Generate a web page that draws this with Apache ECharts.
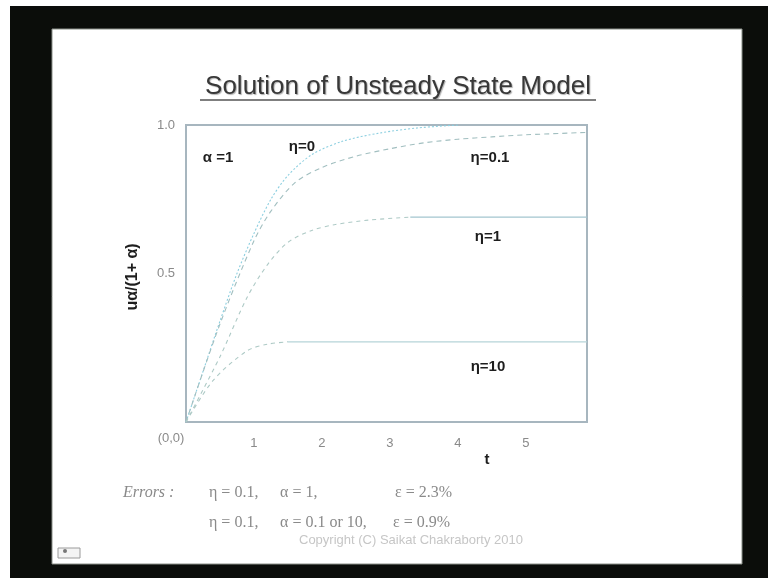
<!DOCTYPE html>
<html>
<head>
<meta charset="utf-8">
<script src="https://cdn.jsdelivr.net/npm/echarts@6/dist/echarts.min.js"></script>
<style>
html,body{margin:0;padding:0;background:#fff;}
#c{width:768px;height:578px;}
</style>
</head>
<body>
<div id="c"></div>
<script>
// ---- data ----
var xTicks = [0, 1, 2, 3, 4, 5];
var yTicks = [0, 0.5, 1.0];

var tEta0 = [0, 0.25, 0.5, 0.75, 1.0, 1.25, 1.5, 1.85, 2.3, 2.85, 3.4, 4.0];
var yEta0 = [0, 0.17, 0.34, 0.5, 0.635, 0.75, 0.83, 0.9, 0.945, 0.973, 0.99, 1.0];

var tEta01 = [0, 0.5, 1.0, 1.25, 1.6, 2.0, 2.5, 3.0, 3.5, 4.0, 4.5, 5.0, 5.9];
var yEta01 = [0, 0.33, 0.61, 0.71, 0.805, 0.857, 0.895, 0.92, 0.94, 0.952, 0.96, 0.967, 0.975];

var tEta1 = [0, 0.5, 0.9, 1.2, 1.5, 1.85, 2.2, 2.7, 3.3, 5.9];
var yEta1 = [0, 0.22, 0.42, 0.53, 0.605, 0.645, 0.665, 0.68, 0.69, 0.69];

var tEta10 = [0, 0.4, 0.9, 1.2, 1.5, 5.9];
var yEta10 = [0, 0.14, 0.24, 0.262, 0.27, 0.27];

var curveLabels = ['η=0', 'η=0.1', 'η=1', 'η=10'];

function zip(t, y) { return t.map(function (v, i) { return [v, y[i]]; }); }

var chart = echarts.init(document.getElementById('c'), null, {renderer: 'canvas'});

var lab = {fontFamily: 'Liberation Sans, Arial', fontWeight: 'bold', fontSize: 15, fill: '#1e1e1e'};
function txt(x, y, s, extra) {
  var st = Object.assign({}, lab, {text: s, x: x, y: y, align: 'center', verticalAlign: 'middle'}, extra || {});
  return {type: 'text', z: 50, style: st};
}
var serif = {fontFamily: 'Liberation Serif, Times New Roman', fontSize: 16, fill: '#8a8a8a', verticalAlign: 'middle'};
function stxt(x, y, s, extra) {
  return {type: 'text', z: 50, style: Object.assign({}, serif, {text: s, x: x, y: y}, extra || {})};
}

var option = {
  backgroundColor: '#ffffff',
  animation: false,
  grid: {left: 186, right: 181, top: 125, bottom: 156, show: true,
         borderColor: '#a7b6bf', borderWidth: 2, backgroundColor: '#ffffff', z: 1},
  xAxis: {
    type: 'value', min: 0, max: 5.9, interval: 1,
    axisLine: {show: false}, axisTick: {show: false}, splitLine: {show: false},
    axisLabel: {
      margin: 15, color: '#8a8a8a', fontSize: 13, fontFamily: 'Liberation Sans, Arial',
      formatter: function (v) { return (v > 0 && xTicks.indexOf(v) >= 0) ? String(v) : ''; }
    }
  },
  yAxis: {
    type: 'value', min: 0, max: 1, interval: 0.5,
    axisLine: {show: false}, axisTick: {show: false}, splitLine: {show: false},
    axisLabel: {
      margin: 11, color: '#8a8a8a', fontSize: 13, fontFamily: 'Liberation Sans, Arial',
      formatter: function (v) { return v > 0 && yTicks.indexOf(v) >= 0 ? v.toFixed(1) : ''; }
    }
  },
  series: [
    {type: 'line', name: curveLabels[0], data: zip(tEta0, yEta0), smooth: 0.3, symbol: 'none', z: 5,
     lineStyle: {color: '#8ccfe0', width: 1.1, type: [2, 2]}},
    {type: 'line', name: curveLabels[1], data: zip(tEta01, yEta01), smooth: 0.3, symbol: 'none', z: 5,
     lineStyle: {color: '#a2bfc0', width: 1.1, type: [5, 4]}},
    {type: 'line', name: curveLabels[2], data: zip(tEta1.slice(0, 9), yEta1.slice(0, 9)), smooth: 0.3, symbol: 'none', z: 5,
     lineStyle: {color: '#aecac6', width: 1.1, type: [4, 4]}},
    {type: 'line', name: curveLabels[2] + ' plateau', data: zip(tEta1.slice(8), yEta1.slice(8)), symbol: 'none', z: 5,
     lineStyle: {color: '#a3c6cf', width: 1.2}},
    {type: 'line', name: curveLabels[3], data: zip(tEta10.slice(0, 5), yEta10.slice(0, 5)), smooth: 0.3, symbol: 'none', z: 5,
     lineStyle: {color: '#aecac6', width: 1.1, type: [4, 4]}},
    {type: 'line', name: curveLabels[3] + ' plateau', data: zip(tEta10.slice(4), yEta10.slice(4)), symbol: 'none', z: 5,
     lineStyle: {color: '#b6d4d8', width: 1.2}}
  ],
  graphic: [
    // outer frame
    {type: 'rect', z: -10, shape: {x: 10, y: 6, width: 758, height: 572}, style: {fill: '#0b0d0a'}},
    {type: 'rect', z: -9, shape: {x: 52, y: 29, width: 690, height: 535}, style: {fill: '#ffffff', stroke: '#8a8f88', lineWidth: 1}},
    // title
    {type: 'text', z: 50, style: {text: 'Solution of Unsteady State Model', x: 398, y: 87, align: 'center', verticalAlign: 'middle',
      fontFamily: 'Liberation Sans, Arial', fontSize: 26, fill: '#383838', textShadowColor: '#b0b0b0', textShadowOffsetX: 1, textShadowOffsetY: 1, textShadowBlur: 1}},
    {type: 'line', z: 50, shape: {x1: 200, y1: 100, x2: 596, y2: 100}, style: {stroke: '#555', lineWidth: 1.5}},
    // annotations
    txt(302, 147, curveLabels[0]),
    txt(218, 158, 'α =1'),
    txt(490, 158, curveLabels[1]),
    txt(488, 237, curveLabels[2]),
    txt(488, 367, curveLabels[3]),
    txt(487, 460, 't', {fontSize: 15}),
    {type: 'text', z: 50, x: 133, y: 277, rotation: Math.PI / 2,
     style: Object.assign({}, lab, {text: 'uα/(1+ α)', x: 0, y: 0, align: 'center', verticalAlign: 'middle', fontSize: 16})},
    {type: 'text', z: 50, style: {text: '(0,0)', x: 171, y: 438, align: 'center', verticalAlign: 'middle',
      fontFamily: 'Liberation Sans, Arial', fontSize: 13, fill: '#8a8a8a'}},
    // errors block
    stxt(123, 493, 'Errors :', {fontStyle: 'italic'}),
    stxt(209, 493, 'η = 0.1,'),
    stxt(280, 493, 'α = 1,'),
    stxt(395, 493, 'ε = 2.3%'),
    stxt(209, 523, 'η = 0.1,'),
    stxt(280, 523, 'α = 0.1 or 10,'),
    stxt(393, 523, 'ε = 0.9%'),
    {type: 'text', z: 50, style: {text: 'Copyright (C) Saikat Chakraborty 2010', x: 411, y: 540, align: 'center', verticalAlign: 'middle',
      fontFamily: 'Liberation Sans, Arial', fontSize: 13, fill: '#c6c6c6'}},
    // small nav icon
    {type: 'rect', z: 50, shape: {x: 58, y: 548, width: 22, height: 10}, style: {fill: '#f4f4f4', stroke: '#9a9a9a', lineWidth: 1}},
    {type: 'circle', z: 51, shape: {cx: 65, cy: 551, r: 2}, style: {fill: '#777'}}
  ]
};
chart.setOption(option);
</script>
</body>
</html>
